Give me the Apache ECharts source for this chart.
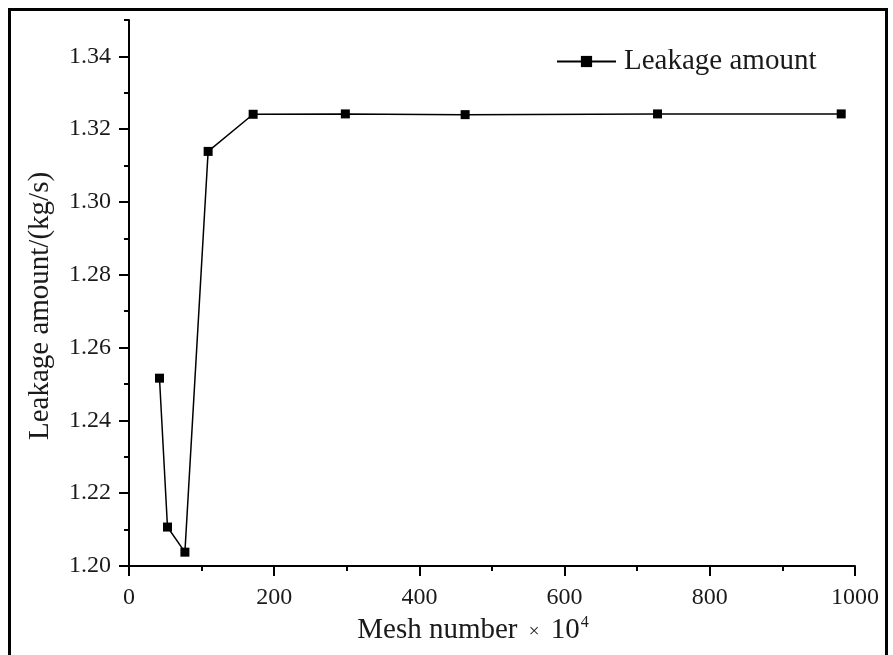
<!DOCTYPE html>
<html>
<head>
<meta charset="utf-8">
<title>Leakage amount vs mesh number</title>
<script src="https://cdn.jsdelivr.net/npm/echarts@6/dist/echarts.min.js"></script>
<style>
  html, body { margin: 0; padding: 0; background: #fff; }
  #chart { width: 893px; height: 655px; }
  .frame {
    position: absolute; left: 8px; top: 8px; width: 874px; height: 660px;
    border: 3px solid #000; border-bottom: none; pointer-events: none;
  }
</style>
</head>
<body>
<div id="chart"></div>
<div class="frame"></div>
<script>
// mesh number (x 10^4) and leakage amount (kg/s)
const meshNumber = [42, 53, 77, 109, 171, 298, 463, 728, 981]
const leakage = [1.2516, 1.2107, 1.2038, 1.3139, 1.3241, 1.3242, 1.3240, 1.3242, 1.3242]

const seriesName = 'Leakage amount'
const font = 'Liberation Serif'

const chart = echarts.init(document.getElementById('chart'))

chart.setOption({
  animation: false,
  textStyle: { fontFamily: font, color: '#1a1a1a' },
  grid: { left: 129, right: 38, top: 20, bottom: 89 },
  legend: {
    data: [seriesName],
    left: 551,
    top: 42,
    itemWidth: 59,
    itemHeight: 14,
    itemGap: 0,
    textStyle: { fontFamily: font, fontSize: 29, color: '#1a1a1a', padding: [0, 0, 0, 3] }
  },
  xAxis: {
    type: 'value',
    min: 0,
    max: 1000,
    interval: 200,
    name: '{t|Mesh number }{x|×}{t| 10}{s|4}',
    nameLocation: 'middle',
    nameGap: 49,
    nameTextStyle: {
      padding: [0, 38, 0, 0],
      rich: {
        t: { fontFamily: font, fontSize: 29, color: '#1a1a1a' },
        x: { fontFamily: font, fontSize: 19, color: '#1a1a1a', padding: [4, 4, 0, 4] },
        s: { fontFamily: font, fontSize: 16, color: '#1a1a1a', verticalAlign: 'top', padding: [0, 0, 14, 1] }
      }
    },
    axisLine: { lineStyle: { color: '#000', width: 2 } },
    axisTick: { length: 10, lineStyle: { color: '#000', width: 2 } },
    minorTick: { show: true, splitNumber: 2, length: 5, lineStyle: { color: '#000', width: 2 } },
    axisLabel: { fontFamily: font, fontSize: 24, color: '#1a1a1a', margin: 20, formatter: v => String(v) },
    splitLine: { show: false }
  },
  yAxis: [
    {
      type: 'value',
      min: 1.20,
      max: 1.35,
      interval: 0.02,
      name: 'Leakage amount/(kg/s)',
      nameLocation: 'middle',
      nameGap: 74,
      nameTextStyle: { fontFamily: font, fontSize: 29, color: '#1a1a1a', padding: [0, 26, 0, 0] },
      axisLine: { show: true, lineStyle: { color: '#000', width: 2 } },
      axisTick: { length: 10, lineStyle: { color: '#000', width: 2 } },
      axisLabel: {
        fontFamily: font, fontSize: 24, color: '#1a1a1a', margin: 18,
        showMaxLabel: false,
        formatter: v => v.toFixed(2)
      },
      splitLine: { show: false }
    },
    {
      // minor ticks every 0.01
      type: 'value',
      position: 'left',
      min: 1.20,
      max: 1.35,
      interval: 0.01,
      axisLine: { show: false },
      axisTick: { show: true, length: 5, lineStyle: { color: '#000', width: 2 } },
      axisLabel: { show: false },
      splitLine: { show: false }
    }
  ],
  series: [
    {
      name: seriesName,
      type: 'line',
      yAxisIndex: 0,
      data: meshNumber.map((x, i) => [x, leakage[i]]),
      symbol: 'rect',
      symbolSize: 9,
      lineStyle: { color: '#000', width: 1.5 },
      itemStyle: { color: '#000' }
    }
  ]
})
</script>
</body>
</html>
